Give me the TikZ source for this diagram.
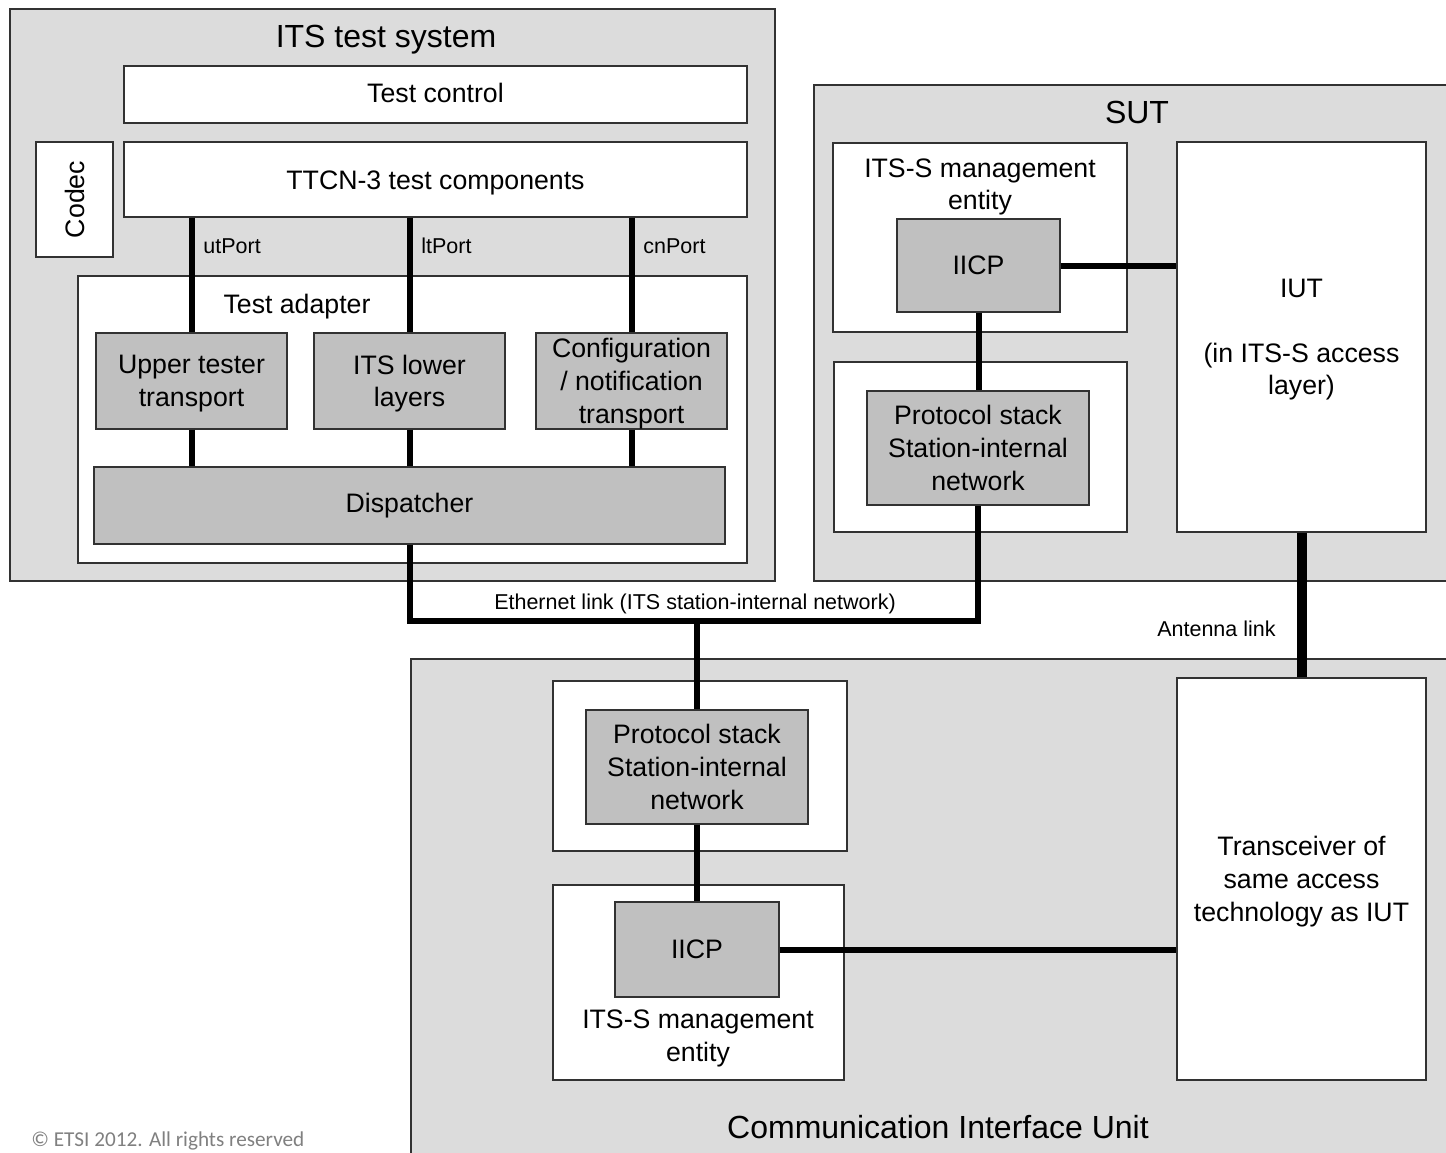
\documentclass[tikz,border=0pt]{standalone}
\usepackage{fontspec}
\setmainfont{Liberation Sans}
\newfontfamily\cfont{Carlito}
\usetikzlibrary{fit}
\definecolor{outerbg}{RGB}{220,220,220}
\definecolor{innerbg}{RGB}{192,192,192}
\definecolor{edgecol}{RGB}{50,50,50}
\newcommand\fT{\fontsize{16}{19}\selectfont}
\newcommand\fM{\fontsize{13.35}{16.3}\selectfont}
\newcommand\fS{\fontsize{10.75}{13}\selectfont}
\begin{document}
\begin{tikzpicture}[x=0.5pt,y=-0.5pt,
  base/.style={draw=edgecol, line width=0.6pt, inner sep=0pt},
  outerbox/.style={base, fill=outerbg},
  wbox/.style={base, fill=white},
  gbox/.style={base, fill=innerbg},
  lbl/.style={inner sep=0pt, align=center, font=\fM},
  mlbl/.style={lbl, yshift=-1.25pt},
  ttl/.style={inner sep=0pt, font=\fT},
  small/.style={inner sep=0pt, font=\fS},
  conn/.style={line width=3pt, line join=miter},
  thickconn/.style={line width=5pt}]
\clip (0,0) rectangle (1446,1152);
\fill[white] (0,0) rectangle (1446,1152);

% ---------- ITS test system ----------
\node[outerbox, fit={(10,9)(775,581)}] (ts) {};
\node[ttl, anchor=base] (tsT) at (386,47.5) {ITS test system};
\node[wbox, fit={(124,66)(747,123)}] (tc) {};
\node[lbl, yshift=0.8pt] (tcT) at (tc.center) {Test control};
\node[wbox, fit={(124,142)(747,217)}] (ttcn) {};
\node[lbl, anchor=base] (ttcnT) at ([yshift=-9.5*0.5pt]ttcn.center) {TTCN-3 test components};
\node[wbox, rotate=90, minimum width=57.5pt, minimum height=38.5pt, inner sep=0pt] (codec) at (74.5,199.5) {};
\node[lbl, rotate=90] (codecT) at (codec.center) {Codec};
\node[wbox, fit={(78,276)(747,563)}] (ta) {};
\node[lbl, anchor=base] (taT) at (297,313.5) {Test adapter};
\node[gbox, fit={(96,333)(287,429)}] (ut) {};
\node[mlbl] (utT) at (ut.center) {Upper tester\\transport};
\node[gbox, fit={(314,333)(505,429)}] (lt) {};
\node[mlbl] (ltT) at (lt.center) {ITS lower\\layers};
\node[gbox, fit={(536,333)(727,429)}] (cn) {};
\node[mlbl] (cnT) at (cn.center) {Configuration\\/ notification\\transport};
\node[gbox, fit={(94,467)(725,544)}] (disp) {};
\node[lbl] (dispT) at (disp.center) {Dispatcher};

% ---------- SUT ----------
\node[outerbox, fit={(814,85)(1460,581)}] (sut) {};
\node[ttl, anchor=base] (sutT) at (1137,123.5) {SUT};
\node[wbox, fit={(833,143)(1127,332)}] (mgS) {};
\node[lbl] (mgST) at (980,187) {ITS-S management\\entity};
\node[gbox, fit={(897,219)(1060,312)}] (iicpS) {};
\node[lbl] (iicpST) at (iicpS.center) {IICP};
\node[wbox, fit={(834,362)(1127,532)}] (netS) {};
\node[gbox, fit={(867,391)(1089,505)}] (psS) {};
\node[lbl] (psST) at (psS.center) {Protocol stack\\Station-internal\\network};
\node[wbox, fit={(1177,142)(1426,532)}] (iut) {};
\node[mlbl] (iutT) at (iut.center) {IUT\\[16.3pt](in ITS-S access\\layer)};

% ---------- Communication Interface Unit ----------
\node[outerbox, fit={(411,659)(1465,1170)}] (ciu) {};
\node[ttl, anchor=base] (ciuT) at (938,1138.5) {Communication Interface Unit};
\node[wbox, fit={(553,681)(847,851)}] (netC) {};
\node[gbox, fit={(586,710)(808,824)}] (psC) {};
\node[lbl] (psCT) at (psC.center) {Protocol stack\\Station-internal\\network};
\node[wbox, fit={(553,885)(844,1080)}] (mgC) {};
\node[gbox, fit={(615,902)(779,997)}] (iicpC) {};
\node[lbl] (iicpCT) at (iicpC.center) {IICP};
\node[lbl] (mgCT) at (698,1038.5) {ITS-S management\\entity};
\node[wbox, fit={(1177,678)(1426,1080)}] (trx) {};
\node[mlbl] (trxT) at (trx.center) {Transceiver of\\same access\\technology as IUT};

% ---------- connectors ----------
\draw[conn] (ut.north |- ttcn.south) -- (ut.north);
\draw[conn] (lt.north |- ttcn.south) -- (lt.north);
\draw[conn] (cn.north |- ttcn.south) -- (cn.north);
\draw[conn] (ut.south) -- (ut.south |- disp.north);
\draw[conn] (lt.south) -- (lt.south |- disp.north);
\draw[conn] (cn.south) -- (cn.south |- disp.north);
\node[small, anchor=base west] (utP) at (203,253.7) {utPort};
\node[small, anchor=base west] (ltP) at (421,253.7) {ltPort};
\node[small, anchor=base west] (cnP) at (643,253.7) {cnPort};

\coordinate (eth) at (697,621);
\draw[conn] (disp.south) |- (eth) -| (psS.south);
\draw[conn] (eth) -- (psC.north);
\node[small, anchor=base] (ethL) at (695,609) {Ethernet link (ITS station-internal network)};

\draw[conn] (iicpS.east) -- (iicpS.east -| iut.west);
\draw[conn] (iicpS.south) -- (iicpS.south |- psS.north);
\draw[conn] (psC.south) -- (psC.south |- iicpC.north);
\draw[conn] (iicpC.east) -- (iicpC.east -| trx.west);
\draw[thickconn] (iut.south) -- (trx.north);
\node[small, anchor=base east] (antL) at (1276,636) {Antenna link};

\node[anchor=base west, inner sep=0pt, font=\cfont\fontsize{10.6}{12}\selectfont, text=black!50] (copy) at (31,1146) {© ETSI 2012. All rights reserved};
\end{tikzpicture}
\end{document}
